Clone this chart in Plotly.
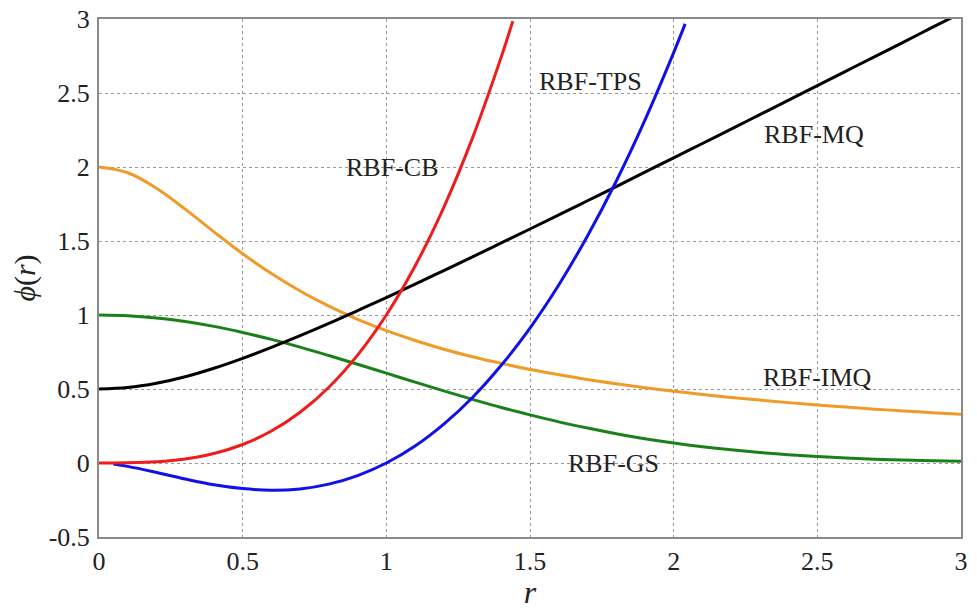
import plotly.graph_objects as go

# Sample positions (r) and curve values
r_full = [0.0, 0.1, 0.2, 0.3, 0.4, 0.5, 0.6, 0.7, 0.8, 0.9, 1.0, 1.1, 1.2, 1.3, 1.4, 1.5,
          1.6, 1.7, 1.8, 1.9, 2.0, 2.1, 2.2, 2.3, 2.4, 2.5, 2.6, 2.7, 2.8, 2.9, 3.0]

mq = [0.500, 0.510, 0.539, 0.583, 0.640, 0.707, 0.781, 0.860, 0.943, 1.030, 1.118, 1.208, 1.300,
      1.393, 1.487, 1.581, 1.676, 1.772, 1.868, 1.965, 2.062, 2.159, 2.256, 2.354, 2.452, 2.550,
      2.648, 2.746, 2.844, 2.943, 3.041]

imq = [2.000, 1.961, 1.857, 1.715, 1.562, 1.414, 1.280, 1.162, 1.060, 0.971, 0.894, 0.828, 0.769,
       0.718, 0.673, 0.632, 0.597, 0.564, 0.535, 0.509, 0.485, 0.463, 0.443, 0.425, 0.408, 0.392,
       0.378, 0.364, 0.352, 0.340, 0.329]

gs = [1.000, 0.995, 0.980, 0.956, 0.923, 0.882, 0.835, 0.783, 0.726, 0.667, 0.607, 0.546, 0.487,
      0.430, 0.375, 0.325, 0.278, 0.236, 0.198, 0.164, 0.135, 0.110, 0.089, 0.071, 0.056, 0.044,
      0.034, 0.026, 0.020, 0.015, 0.011]

r_cb = [0.0, 0.1, 0.2, 0.3, 0.4, 0.5, 0.6, 0.7, 0.8, 0.9, 1.0, 1.1, 1.2, 1.3, 1.4, 1.44]
cb = [0.0, 0.001, 0.008, 0.027, 0.064, 0.125, 0.216, 0.343, 0.512, 0.729, 1.000, 1.331, 1.728,
      2.197, 2.744, 2.986]

r_tps = [0.05, 0.1, 0.2, 0.3, 0.4, 0.5, 0.6, 0.7, 0.8, 0.9, 1.0, 1.1, 1.2, 1.3, 1.4, 1.5,
         1.6, 1.7, 1.8, 1.9, 2.0, 2.04]
tps = [-0.007, -0.023, -0.064, -0.108, -0.147, -0.173, -0.184, -0.175, -0.143, -0.085, 0.000,
       0.115, 0.263, 0.443, 0.660, 0.912, 1.203, 1.534, 1.904, 2.317, 2.773, 2.967]

labels = ["RBF-CB", "RBF-TPS", "RBF-MQ", "RBF-IMQ", "RBF-GS"]
label_r = [1.02, 1.71, 2.49, 2.5, 1.79]
label_y = [2.0, 2.58, 2.22, 0.58, 0.0]

x_ticks = [0, 0.5, 1, 1.5, 2, 2.5, 3]
x_tick_text = ["0", "0.5", "1", "1.5", "2", "2.5", "3"]
y_ticks = [-0.5, 0, 0.5, 1, 1.5, 2, 2.5, 3]
y_tick_text = ["-0.5", "0", "0.5", "1", "1.5", "2", "2.5", "3"]

FONT = "Times New Roman, Liberation Serif, serif"
LW = 3

fig = go.Figure()
fig.add_trace(go.Scatter(x=r_full, y=gs, mode="lines", line=dict(color="#1a801a", width=LW, shape="spline"), showlegend=False))
fig.add_trace(go.Scatter(x=r_full, y=imq, mode="lines", line=dict(color="#f09a28", width=LW, shape="spline"), showlegend=False))
fig.add_trace(go.Scatter(x=r_full, y=mq, mode="lines", line=dict(color="#000000", width=LW, shape="spline"), showlegend=False))
fig.add_trace(go.Scatter(x=r_tps, y=tps, mode="lines", line=dict(color="#1010e8", width=LW, shape="spline"), showlegend=False))
fig.add_trace(go.Scatter(x=r_cb, y=cb, mode="lines", line=dict(color="#ee1c1c", width=LW, shape="spline"), showlegend=False))

for t, xr, yr in zip(labels, label_r, label_y):
    fig.add_annotation(x=xr, y=yr, text=t, showarrow=False,
                       font=dict(family=FONT, size=26, color="#222222"),
                       xanchor="center", yanchor="middle")

tick_font = dict(family=FONT, size=26, color="#222222")
axis_common = dict(showline=True, linecolor="#8a8a8a", linewidth=2, mirror=True,
                   showgrid=True, gridcolor="#999999", gridwidth=1, griddash="dot",
                   zeroline=False, ticks="", automargin=False)

fig.update_xaxes(range=[0, 3], tickvals=x_ticks, ticktext=x_tick_text, tickfont=tick_font,
                 title=dict(text="<i>r</i>", font=dict(family=FONT, size=32, color="#222222"), standoff=8),
                 **axis_common)
fig.update_yaxes(range=[-0.5, 3], tickvals=y_ticks, ticktext=y_tick_text, tickfont=tick_font,
                 title=dict(text="<i>ϕ</i>(<i>r</i>)", font=dict(family=FONT, size=30, color="#222222"), standoff=4),
                 ticklabelstandoff=2,
                 **axis_common)

fig.update_layout(width=977, height=610, margin=dict(l=99, r=16, t=19, b=73),
                  font=dict(family=FONT, size=26, color="#222222"),
                  plot_bgcolor="white", paper_bgcolor="white")

fig.write_html("out.html")
